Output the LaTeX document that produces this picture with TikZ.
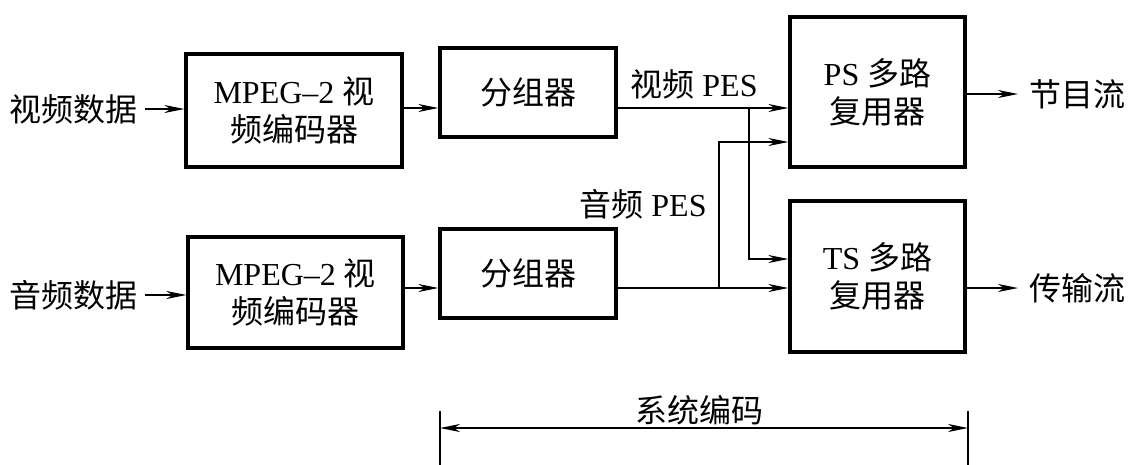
\documentclass[tikz,border=0pt]{standalone}
\usepackage{fontspec}
\setmainfont{Liberation Serif}
\newfontfamily\cjk{Noto Sans CJK SC}
\newcommand{\zh}[1]{{\cjk #1}}
\usetikzlibrary{arrows.meta}
\begin{document}
\begin{tikzpicture}[x=1pt,y=-1pt,
  blk/.style={draw,line width=3.2pt,inner sep=0pt,align=center,
    font=\fontsize{32}{38}\selectfont},
  lbl/.style={inner sep=0pt,font=\fontsize{32}{36}\selectfont},
  tip/.tip={Stealth[length=20pt,width=8pt,inset=6pt]},
  con/.style={line width=1.5pt,-tip},
  ln/.style={line width=1.5pt}]
\useasboundingbox (0,0) rectangle (1138,464);

% rows
\coordinate (row1) at (0,108);
\coordinate (row2) at (0,288);
\coordinate (psin) at (0,142);
\coordinate (tsin) at (0,259);
\coordinate (jv) at (749,108);
\coordinate (ja) at (719,288);

% blocks
\node[blk,minimum width=216pt,minimum height=113pt] (A1) at (294,110.5) {MPEG–2 \zh{视}\\\zh{频编码器}};
\node[blk,minimum width=176pt,minimum height=89pt] (B1) at (528,92.5) {\zh{分组器}};
\node[blk,minimum width=215pt,minimum height=111pt] (A2) at (295.5,292.5) {MPEG–2 \zh{视}\\\zh{频编码器}};
\node[blk,minimum width=176pt,minimum height=89pt] (B2) at (528,273.5) {\zh{分组器}};
\node[blk,minimum width=175pt,minimum height=150pt] (PS) at (877.5,92) {PS \zh{多路}\\\zh{复用器}};
\node[blk,minimum width=175pt,minimum height=151pt] (TS) at (877.5,276.5) {TS \zh{多路}\\\zh{复用器}};

% texts
\node[lbl,anchor=east] (vin) at (138,109) {\zh{视频数据}};
\node[lbl,anchor=east] (ain) at (138,295) {\zh{音频数据}};
\node[lbl,anchor=west] (o1) at (1029,94) {\zh{节目流}};
\node[lbl,anchor=west] (o2) at (1029,288) {\zh{传输流}};
\node[lbl] (lv) at (694,84) {\zh{视频} PES};
\node[lbl] (la) at (643,204) {\zh{音频} PES};

% connectors
\draw[con] ([xshift=7pt]vin.east) -- (vin.east -| A1.west);
\draw[con] ([xshift=7pt]ain.east) -- (ain.east -| A2.west);
\draw[con] (A1.east |- row1) -- (B1.west |- row1);
\draw[con] (A2.east |- row2) -- (B2.west |- row2);
\draw[con] (B1.east |- row1) -- (PS.west |- row1);
\draw[con] (B2.east |- row2) -- (TS.west |- row2);
\draw[con] (jv) -- (jv |- tsin) -- (TS.west |- tsin);
\draw[con] (ja) -- (ja |- psin) -- (PS.west |- psin);
\draw[con] (PS.east |- o1.west) -- ([xshift=-11pt]o1.west);
\draw[con] (TS.east |- o2.west) -- ([xshift=-11pt]o2.west);

% dimension
\coordinate (dl) at (440,428);
\coordinate (dr) at (968,428);
\draw[ln] ([yshift=-48pt]dl) -- ([yshift=17pt]dl);
\draw[ln] ([yshift=-48pt]dr) -- ([yshift=17pt]dr);
\draw[ln,tip-tip] (dl) -- (dr);
\node[lbl] (sys) at (699,410) {\zh{系统编码}};
\end{tikzpicture}
\end{document}
